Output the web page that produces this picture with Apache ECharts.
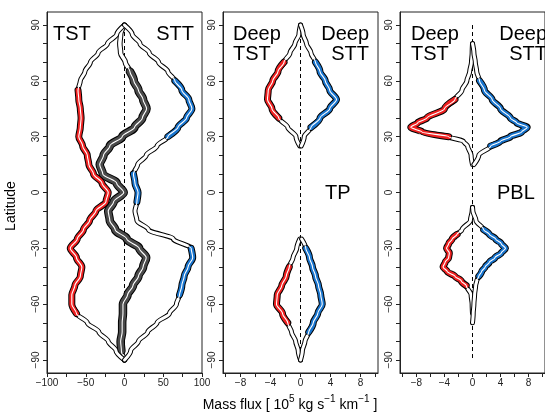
<!DOCTYPE html>
<html>
<head>
<meta charset="utf-8">
<script src="https://cdn.jsdelivr.net/npm/echarts@6/dist/echarts.min.js"></script>
<style>html,body{margin:0;padding:0;background:#fff}#c{width:545px;height:412px}</style>
</head>
<body>
<div id="c"></div>
<script>
// ---------------- data ----------------
const latGrid = [90,85,80,75,70,65,60,55,50,45,40,35,30,25,20,15,10,5,0,-5,-10,-15,-20,-25,-30,-35,-40,-45,-50,-55,-60,-65,-70,-75,-80,-85,-90];

// Panel 1 (total mass flux)
const p1TST = [0,-10,-22,-34,-44,-51,-57,-60,-59,-57,-56,-57,-59,-54,-48,-46,-40,-29,-21,-24,-37,-45,-53,-61,-70,-62,-55,-57,-64,-68,-68,-62,-48,-33,-21,-11,0];
const p1STT = [0,10,20,32,44,56,65,74,83,87,80,69,56,42,28,17,11.5,13.5,17.5,16,13.5,16,31,63,86,88,82,77,74,71,67,58,42,30,18,8,0];
const p1Net = [0,-5,-6,-5,1,7,12,18,24,28.5,23,13,-3,-19,-27,-32,-28,-10,-1,-14,-21,-19,-12,3,19,28,24,18,11,4,-2,-2,-3,-3,-5,-4,0];

// Panel 2 (deep exchange, TP)
const p2TST = [0,-0.2,-0.75,-1.4,-2.2,-3.0,-3.7,-4.3,-4.4,-3.8,-2.9,-1.7,-0.6,-0.1,null,null,null,null,null,null,null,null,null,-0.1,-0.5,-1.0,-1.5,-1.9,-2.5,-3.1,-3.2,-2.4,-1.7,-1.2,-0.65,-0.3,0];
const p2STT = [0,0.35,0.8,1.4,2.0,2.6,3.3,3.9,4.8,3.9,2.6,1.4,0.5,0.1,null,null,null,null,null,null,null,null,null,0.15,0.7,1.2,1.6,2.0,2.4,2.7,2.9,2.3,1.7,1.1,0.6,0.25,0];

// Panel 3 (deep exchange, PBL)
const p3Lat = [80,75,70,65,60,55,50,45,40,37.5,35,32.5,30,27.5,25,20,15,0,-8,-10,-15,-20,-22.5,-25,-27.5,-30,-32.5,-35,-37.5,-40,-42.5,-45,-47.5,-50,-55,-60,-65,-70];
const p3TST = [0,-0.05,-0.15,-0.4,-0.8,-1.5,-2.5,-4.0,-6.5,-7.8,-8.8,-7.2,-3.4,-1.3,-0.7,-0.2,0,null,0,-0.05,-0.3,-1.5,-2.2,-2.9,-3.4,-3.7,-3.3,-3.4,-3.9,-4.2,-3.6,-2.5,-1.6,-0.9,-0.2,-0.05,0,null];
const p3STT = [0,0.2,0.4,0.6,1.0,1.7,2.8,4.0,5.4,6.3,7.8,7.0,5.4,4.0,2.6,0.9,0.2,null,0,0.05,0.5,1.6,2.4,3.3,4.1,4.7,4.1,3.2,2.4,1.8,1.3,0.9,0.6,0.45,0.3,0.2,0.1,0];

// latitude ranges where the bands are shaded in colour
const p1TSTcol = [[57,-66]];
const p1STTcol = [[63,27],[12,-6],[-28,-58]];
const p1NetCol = [[68,-88]];
const p2TSTcol = [[72,39],[-40,-73]];
const p2STTcol = [[70,35],[-27,-75]];
const p3TSTcol = [[50,30],[-22,-50]];
const p3STTcol = [[60,25],[-20,-46]];

const zeroLine = [[0,90],[0,-90]];

// axis ticks / labels
const xTicks1 = [-100,-75,-50,-25,0,25,50,75,100];
const xLabels1 = [-100,-50,0,50,100];
const xTicks23 = [-10,-8,-6,-4,-2,0,2,4,6,8,10];
const xLabels23 = [-8,-4,0,4,8];
const yTicks = [-90,-80,-70,-60,-50,-40,-30,-20,-10,0,10,20,30,40,50,60,70,80,90];
const yLabels = [-90,-60,-30,0,30,60,90];

// ---------------- helpers ----------------
const FONT = '"Liberation Sans", Arial, Helvetica, sans-serif';
const RED = '#ee2020', BLUE = '#1874cd', GRAY = '#4a4a4a';
let zc = 2;

function segs(lats, vals, lo, hi) {
  const out = []; let cur = [];
  for (let i = 0; i < lats.length; i++) {
    const inR = (lo === undefined) || (lats[i] <= hi && lats[i] >= lo);
    if (vals[i] === null || !inR) { if (cur.length > 1) out.push(cur); cur = []; continue; }
    cur.push([vals[i], lats[i]]);
  }
  if (cur.length > 1) out.push(cur);
  return out;
}
function line(g, d, color, width) {
  return { type: 'line', xAxisIndex: g, yAxisIndex: g, data: d, symbol: 'none',
    smooth: 0.3, smoothMonotone: 'y', silent: true, animation: false, z: zc++,
    lineStyle: { color: color, width: width, cap: 'round', join: 'round' } };
}
function curve(g, lats, vals, col, ranges, w, cw) {
  const out = [];
  const base = segs(lats, vals);
  base.forEach(d => out.push(line(g, d, '#000', w)));
  base.forEach(d => out.push(line(g, d, '#fff', w - 2)));
  ranges.forEach(r => segs(lats, vals, r[1], r[0]).forEach(d => out.push(line(g, d, '#000', cw))));
  ranges.forEach(r => segs(lats, vals, r[1], r[0]).forEach(d => out.push(line(g, d, col, cw - 2))));
  base.forEach(d => out.push(line(g, d, '#fff', 1.1)));
  return out;
}
const minus = v => String(v).replace('-', '\u2212');

const grids = [47, 223, 400].map(l => ({ left: l, top: 12, width: 155, height: 361,
  show: true, borderColor: '#222', borderWidth: 1, backgroundColor: 'transparent' }));

function xAx(g, min, max, ticks, labels) {
  return { type: 'value', gridIndex: g, min: min, max: max, splitLine: { show: false },
    axisLine: { show: true, onZero: false, lineStyle: { color: '#222', width: 1 } },
    axisTick: { show: true, length: 4, customValues: ticks, lineStyle: { color: '#222' } },
    axisLabel: { customValues: labels, formatter: minus, fontSize: 10, color: '#222', margin: 5, fontFamily: FONT } };
}
function yAx(g) {
  return { type: 'value', gridIndex: g, min: -97, max: 97, splitLine: { show: false },
    axisLine: { show: true, onZero: false, lineStyle: { color: '#222', width: 1 } },
    axisTick: { show: true, length: 4, customValues: yTicks, lineStyle: { color: '#222' } },
    axisLabel: { customValues: yLabels, formatter: minus, rotate: 90, fontSize: 10, color: '#222', margin: 6, fontFamily: FONT } };
}

const series = [];
[0,1,2].forEach(g => series.push({ type: 'line', xAxisIndex: g, yAxisIndex: g, data: zeroLine, symbol: 'none',
  silent: true, animation: false, z: 1, lineStyle: { color: '#000', width: 1, type: [4,3] } }));
series.push(...curve(0, latGrid, p1Net, GRAY, p1NetCol, 5.5, 8.5));
series.push(...curve(0, latGrid, p1TST, RED, p1TSTcol, 5, 7));
series.push(...curve(0, latGrid, p1STT, BLUE, p1STTcol, 5, 7));
series.push(...curve(1, latGrid, p2TST, RED, p2TSTcol, 5, 7));
series.push(...curve(1, latGrid, p2STT, BLUE, p2STTcol, 5, 7));
series.push(...curve(2, p3Lat, p3TST, RED, p3TSTcol, 5, 7));
series.push(...curve(2, p3Lat, p3STT, BLUE, p3STTcol, 5, 7));

function txt(x, y, text, align, size, rot) {
  return { type: 'text', x: x, y: y, rotation: rot || 0, silent: true,
    style: { text: text, fill: '#000', font: (size || 20) + 'px ' + FONT, align: align || 'left', verticalAlign: 'middle', lineHeight: 20 } };
}

const option = {
  animation: false,
  grid: grids,
  xAxis: [xAx(0, -100, 100, xTicks1, xLabels1), xAx(1, -10.333, 10.333, xTicks23, xLabels23), xAx(2, -10.333, 10.333, xTicks23, xLabels23)],
  yAxis: [yAx(0), yAx(1), yAx(2)],
  series: series,
  graphic: [
    txt(53, 34.5, 'TST', 'left'),
    txt(194, 34.5, 'STT', 'right'),
    txt(233, 44, 'Deep\nTST', 'left'),
    txt(369, 44, 'Deep\nSTT', 'right'),
    txt(325, 193, 'TP', 'left'),
    txt(411, 44, 'Deep\nTST', 'left'),
    txt(547, 44, 'Deep\nSTT', 'right'),
    txt(497, 193, 'PBL', 'left'),
    txt(11, 206, 'Latitude', 'center', 14, Math.PI / 2),
    { type: 'text', x: 290, y: 403, silent: true,
      style: { text: '{a|Mass flux [ 10}{s|5}{a| kg s}{s|\u22121}{a| km}{s|\u22121}{a| ]}', align: 'center', verticalAlign: 'middle',
        rich: { a: { fontSize: 14, fontFamily: FONT, fill: '#000', lineHeight: 18, verticalAlign: 'bottom' },
                s: { fontSize: 10, fontFamily: FONT, fill: '#000', lineHeight: 18, verticalAlign: 'top' } } } }
  ]
};
const chart = echarts.init(document.getElementById('c'), null, { renderer: 'canvas' });
chart.setOption(option);
</script>
</body>
</html>
